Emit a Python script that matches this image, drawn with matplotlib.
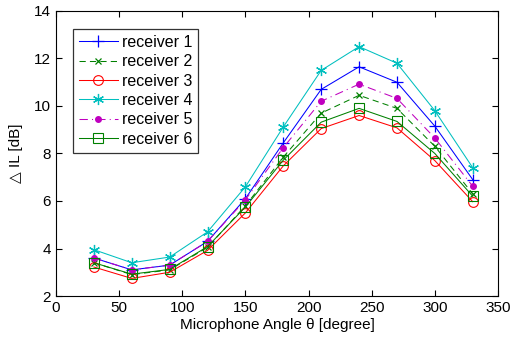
import numpy as np
from matplotlib import pyplot as plt

plt.rcParams['font.family'] = ['Liberation Sans', 'DejaVu Sans']

angles = [30, 60, 90, 120, 150, 180, 210, 240, 270, 300, 330]
receiver1 = [3.6, 3.1, 3.3, 4.3, 6.1, 8.45, 10.7, 11.65, 11.0, 9.15, 6.9]
receiver2 = [3.4, 2.9, 3.1, 4.05, 5.8, 7.85, 9.7, 10.45, 9.9, 8.3, 6.3]
receiver3 = [3.22, 2.74, 3.0, 3.92, 5.5, 7.48, 9.05, 9.6, 9.08, 7.7, 5.97]
receiver4 = [3.95, 3.4, 3.64, 4.7, 6.6, 9.12, 11.5, 12.5, 11.8, 9.8, 7.4]
receiver5 = [3.6, 3.1, 3.3, 4.3, 6.05, 8.25, 10.2, 10.92, 10.32, 8.65, 6.62]
receiver6 = [3.4, 2.92, 3.12, 4.08, 5.75, 7.72, 9.32, 9.9, 9.35, 8.0, 6.2]

fig = plt.figure(figsize=(5.26, 3.42), dpi=100)
ax = fig.add_axes([56/526, 1 - 296/342, 442/526, 285/342])

lw = 0.75
ax.plot(angles, receiver1, color='b', linestyle='-', marker='+', markersize=9, mew=0.9, lw=lw, label='receiver 1')
ax.plot(angles, receiver2, color=(0, 0.5, 0), linestyle=(0, (6, 4)), marker='x', markersize=5, mew=0.9, lw=lw, label='receiver 2')
ax.plot(angles, receiver3, color='r', linestyle='-', marker='o', markersize=7, mfc='none', mew=0.8, lw=lw, label='receiver 3')
ax.plot(angles, receiver4, color=(0, 0.75, 0.75), linestyle='-', marker=(6, 2, 0), markersize=8, mew=0.9, lw=lw, label='receiver 4')
ax.plot(angles, receiver5, color=(0.75, 0, 0.75), linestyle=(0, (8, 4, 1, 4)), marker='.', markersize=8, lw=lw, label='receiver 5')
ax.plot(angles, receiver6, color=(0, 0.5, 0), linestyle='-', marker='s', markersize=7, mfc='none', mew=0.8, lw=lw, label='receiver 6')

ax.set_xlim(0, 350)
ax.set_ylim(2, 14)
ax.set_xticks(range(0, 351, 50))
ax.set_yticks(range(2, 15, 2))
ax.tick_params(direction='in', top=True, right=True, labelsize=11, length=4)
ax.set_xlabel('Microphone Angle θ [degree]', fontsize=11, labelpad=2)
ax.set_ylabel('△ IL [dB]', fontsize=11, labelpad=8)

leg = ax.legend(loc='upper left', bbox_to_anchor=(0.038, 0.938), fontsize=11.5, frameon=True, fancybox=False,
                edgecolor='black', handlelength=2.4, borderpad=0.4, labelspacing=0.27, handletextpad=0.25,
                borderaxespad=0)
leg.get_frame().set_linewidth(0.9)

plt.savefig('out.png', dpi=100)
